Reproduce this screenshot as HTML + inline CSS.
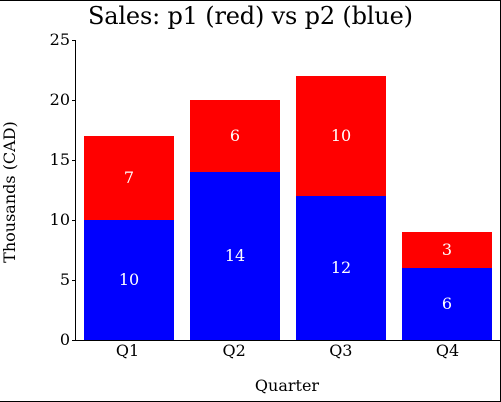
<!DOCTYPE html>
<html>
<head>
<meta charset="utf-8">
<style>
html,body{margin:0;padding:0;background:#fff;}
svg{display:block;}
text{font-family:"DejaVu Serif",serif;}
</style>
</head>
<body>
<svg id="chart" xmlns="http://www.w3.org/2000/svg" width="501" height="402" viewBox="0 0 501 402">
<rect x="0" y="0" width="501" height="402" fill="#fff"/>
<rect x="0" y="0" width="501" height="1" fill="#000"/>
<rect x="0" y="401" width="501" height="1" fill="#000"/>
<rect x="500" y="0" width="1" height="402" fill="#000"/>
<text x="250.5" y="24" text-anchor="middle" font-size="24" textLength="325" lengthAdjust="spacing" fill="#000">Sales: p1 (red) vs p2 (blue)</text>
<text transform="translate(15,192) rotate(-90)" text-anchor="middle" font-size="16" fill="#000">Thousands (CAD)</text>
<text x="287" y="391" text-anchor="middle" font-size="16" fill="#000">Quarter</text>
<g id="bars"></g>
<g id="axes"></g>
</svg>
<script>
const categories = ["Q1", "Q2", "Q3", "Q4"];
const p2Values = [10, 14, 12, 6];
const p1Values = [7, 6, 10, 3];
const yTicks = [0, 5, 10, 15, 20, 25];

const NS = "http://www.w3.org/2000/svg";
const bars = document.getElementById("bars");
const axes = document.getElementById("axes");
const yMax = 25;
const y = v => 340 - v * (300 / yMax);
const barX = i => 84 + i * 106;
const barWidth = 90;
const labelX = i => 127.5 + i * 106.67;

function make(parent, tag, attrs, content) {
  const el = document.createElementNS(NS, tag);
  for (const k in attrs) el.setAttribute(k, attrs[k]);
  if (content !== undefined) el.textContent = content;
  parent.appendChild(el);
  return el;
}

categories.forEach((cat, i) => {
  const low = p2Values[i];
  const high = p1Values[i];
  const blue = make(bars, "rect", { x: barX(i), y: y(low), width: barWidth, height: y(0) - y(low), fill: "#00f" });
  
  
  const red = make(bars, "rect", { x: barX(i), y: y(low + high), width: barWidth, height: y(low) - y(low + high), fill: "#f00" });
  
  
  const blueLabel = make(bars, "text", { x: barX(i) + barWidth / 2, y: y(low / 2) + 5, "text-anchor": "middle", "font-size": 16, fill: "#fff" }, low);
  
  
  const redLabel = make(bars, "text", { x: barX(i) + barWidth / 2, y: y(low + high / 2) + 5, "text-anchor": "middle", "font-size": 16, fill: "#fff" }, high);
  
  
  const tickLabel = make(axes, "text", { x: labelX(i), y: 356, "text-anchor": "middle", "font-size": 16, fill: "#000" }, cat);
  
  
});

const yAxis = make(axes, "rect", { x: 75, y: y(yMax), width: 1, height: y(0) - y(yMax) + 1, fill: "#000" });


const xAxis = make(axes, "rect", { x: 75, y: y(0), width: 426, height: 1, fill: "#000" });



yTicks.forEach(t => {
  const mark = make(axes, "rect", { x: 72, y: y(t), width: 3, height: 1, fill: "#000" });
  
  
  const label = make(axes, "text", { x: 70, y: y(t) + 5, "text-anchor": "end", "font-size": 16, fill: "#000" }, t);
  
  
});
</script>
</body>
</html>
